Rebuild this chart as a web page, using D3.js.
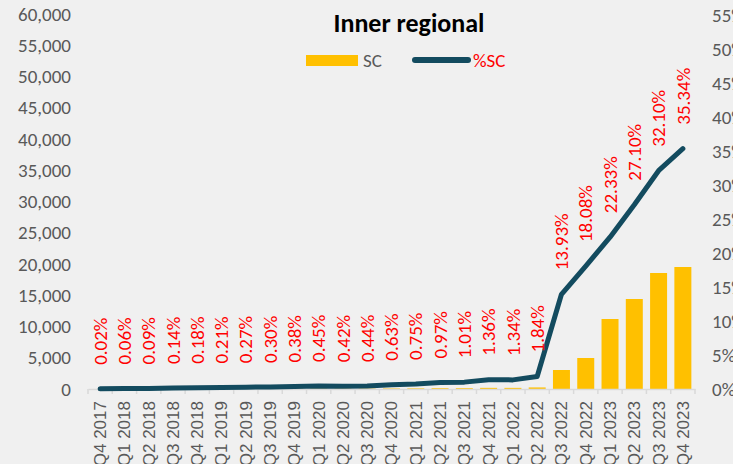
<!DOCTYPE html>
<html>
<head>
<meta charset="utf-8">
<script src="https://cdn.jsdelivr.net/npm/d3@7"></script>
<style>
body { margin: 0; background: #f0f0f0; }
svg { display: block; }
</style>
</head>
<body>
<svg width="733" height="464"></svg>
<script>
// quarters
var quarters = ["Q4 2017","Q1 2018","Q2 2018","Q3 2018","Q4 2018","Q1 2019","Q2 2019","Q3 2019","Q4 2019",
  "Q1 2020","Q2 2020","Q3 2020","Q4 2020","Q1 2021","Q2 2021","Q3 2021","Q4 2021","Q1 2022","Q2 2022",
  "Q3 2022","Q4 2022","Q1 2023","Q2 2023","Q3 2023","Q4 2023"];
// SC counts (bars, left axis)
var scValues = [3, 8, 12, 19, 24, 28, 36, 41, 51, 61, 57, 59, 85, 101, 131, 136, 184, 181, 248,
  3040, 4960, 11200, 14400, 18560, 19520];
// %SC (line, right axis)
var scPct = [0.02, 0.06, 0.09, 0.14, 0.18, 0.21, 0.27, 0.30, 0.38, 0.45, 0.42, 0.44, 0.63, 0.75, 0.97,
  1.01, 1.36, 1.34, 1.84, 13.93, 18.08, 22.33, 27.10, 32.10, 35.34];
var leftTicks = d3.range(0, 60001, 5000);
var rightTicks = d3.range(0, 56, 5);

var svg = d3.select("svg");
var margin = {top: 14, left: 88, right: 38, bottom: 75};
var width = 733 - margin.left - margin.right;
var height = 464 - margin.top - margin.bottom;
var axisFont = "Calibri, Carlito, 'Open Sans', sans-serif";

var x = d3.scaleBand().domain(quarters).range([0, width]).paddingInner(0.3).paddingOuter(0.15);
var xc = d3.scalePoint().domain(quarters).range([0, width]).padding(0.5);
var yL = d3.scaleLinear().domain([0, 60000]).range([height, 0]);
var yR = d3.scaleLinear().domain([0, 55]).range([height, 1]);

var g = svg.append("g").attr("transform", "translate(" + margin.left + "," + margin.top + ")");

// bars
g.selectAll("rect.bar")
  .data(scValues)
  .enter()
  .append("rect")
  .attr("class", "bar")
  .attr("x", function(d, i) { return x(quarters[i]); })
  .attr("width", x.bandwidth())
  .attr("y", function(d) { return yL(d); })
  .attr("height", function(d) { return height - yL(d); })
  .attr("fill", "#ffc000");

// x axis
var xAxis = d3.axisBottom(x).tickSize(0).tickSizeOuter(0);
var xg = g.append("g").attr("transform", "translate(0," + height + ")").call(xAxis);
xg.select(".domain").attr("stroke", "#d9d9d9").attr("stroke-width", 1.5);
xg.selectAll(".tick text")
  .attr("font-family", "'Liberation Sans', Arial, sans-serif")
  .attr("font-size", "17px")
  .attr("fill", "#595959")
  .attr("transform", "rotate(-90)")
  .attr("text-anchor", "end")
  .attr("x", -12)
  .attr("y", 0)
  .attr("dy", "0.35em");
// tick marks at band boundaries
var step = width / quarters.length;
g.selectAll("line.xtick")
  .data(d3.range(quarters.length + 1))
  .enter()
  .append("line")
  .attr("x1", function(d) { return d * step; })
  .attr("x2", function(d) { return d * step; })
  .attr("y1", height)
  .attr("y2", height + 5)
  .attr("stroke", "#d9d9d9")
  .attr("stroke-width", 1.5);

// left axis
var yAxis = d3.axisLeft(yL).tickValues(leftTicks).tickFormat(d3.format(",")).tickSize(0);
var yg = g.append("g").call(yAxis);
yg.select(".domain").remove();
yg.selectAll(".tick text")
  .attr("x", -17)
  .attr("font-family", axisFont)
  .attr("font-size", "19px")
  .attr("fill", "#595959");

// right axis
var yAxisR = d3.axisRight(yR).tickValues(rightTicks).tickFormat(function(d) { return d + "%"; }).tickSize(0);
var yrg = g.append("g").attr("transform", "translate(" + width + ",0)").call(yAxisR);
yrg.select(".domain").remove();
yrg.selectAll(".tick text")
  .attr("x", 17)
  .attr("font-family", axisFont)
  .attr("font-size", "19px")
  .attr("fill", "#595959");

// line
var line = d3.line()
  .x(function(d, i) { return xc(quarters[i]); })
  .y(function(d) { return yR(d); });
g.append("path")
  .datum(scPct)
  .attr("d", line)
  .attr("fill", "none")
  .attr("stroke", "#134b5f")
  .attr("stroke-width", 5)
  .attr("stroke-linejoin", "round")
  .attr("stroke-linecap", "round");

// data labels
g.selectAll("text.lbl")
  .data(scPct)
  .enter()
  .append("text")
  .attr("class", "lbl")
  .attr("transform", function(d, i) {
    return "translate(" + xc(quarters[i]) + "," + (yR(d) - 24) + ") rotate(-90)";
  })
  .attr("dy", "0.35em")
  .attr("font-family", axisFont)
  .attr("font-size", "19px")
  .attr("fill", "#ff0000")
  .text(function(d) { return d.toFixed(2) + "%"; });

// title
svg.append("text")
  .attr("x", 409)
  .attr("y", 32)
  .attr("text-anchor", "middle")
  .attr("font-family", axisFont)
  .attr("font-weight", "bold")
  .attr("font-size", "26px")
  .attr("fill", "#000")
  .text("Inner regional");

// legend
svg.append("rect").attr("x", 306).attr("y", 55).attr("width", 52).attr("height", 11).attr("fill", "#ffc000");
svg.append("text").attr("x", 363).attr("y", 67)
  .attr("font-family", axisFont).attr("font-size", "19px").attr("fill", "#595959").text("SC");
svg.append("line").attr("x1", 415).attr("x2", 468).attr("y1", 60).attr("y2", 60)
  .attr("stroke", "#134b5f").attr("stroke-width", 6).attr("stroke-linecap", "round");
svg.append("text").attr("x", 473).attr("y", 67)
  .attr("font-family", axisFont).attr("font-size", "19px").attr("fill", "#ff0000").text("%SC");
</script>
</body>
</html>
